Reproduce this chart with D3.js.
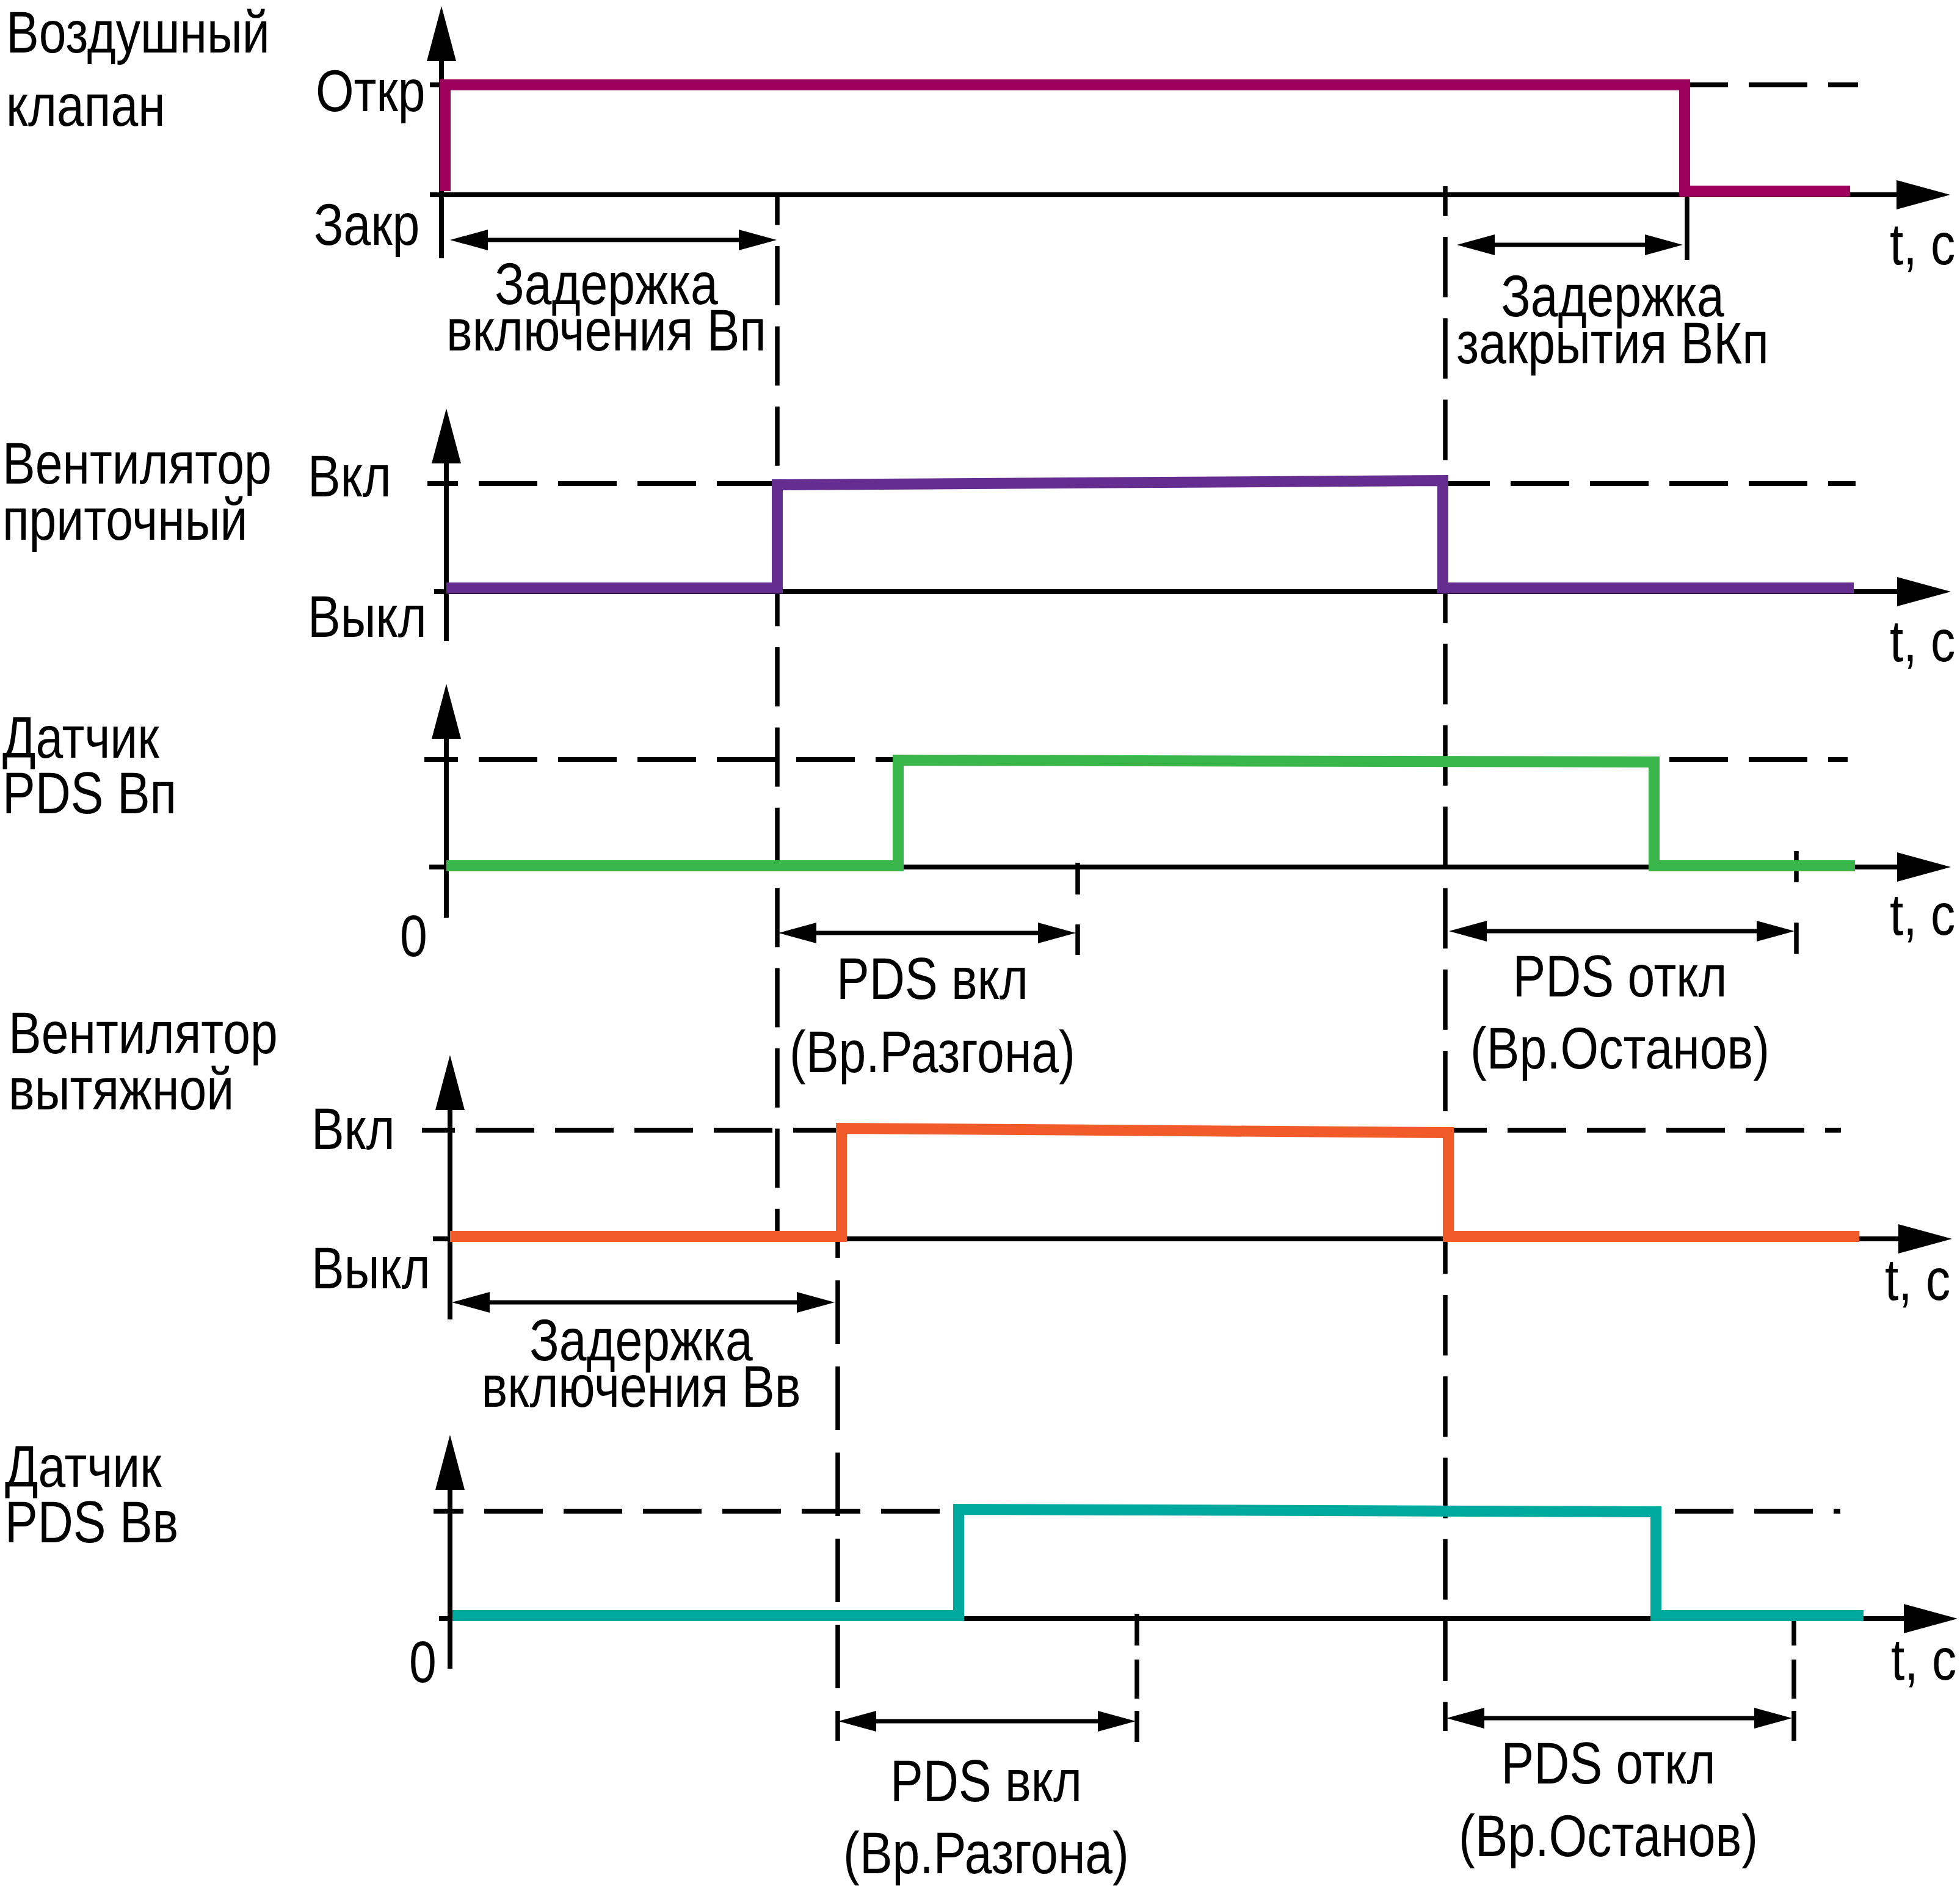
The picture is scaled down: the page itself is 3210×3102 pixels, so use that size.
<!DOCTYPE html>
<html><head><meta charset="utf-8">
<script src="https://cdn.jsdelivr.net/npm/d3@7"></script>
<style>
body{margin:0;background:#fff}
svg{display:block}
text{font-family:'Liberation Sans Narrow','Liberation Sans',Arial,sans-serif;font-size:97px;fill:#000}
</style>
</head><body><svg id="c" width="3210" height="3102"></svg>
<script>
// ---------- data ----------
const panelTitles = [["Воздушный","клапан"],["Вентилятор","приточный"],["Датчик","PDS Вп"],["Вентилятор","вытяжной"],["Датчик","PDS Вв"]];
const levelHigh = ["Откр","Вкл","","Вкл",""];
const levelLow = ["Закр","Выкл","0","Выкл","0"];
const axisUnit = "t, c";
const seriesColors = ["#9E005D","#662D91","#39B54A","#F15A29","#00A99D"];

// time points (s) and state values (0 = off/closed, 1 = on/open)
const valveT = [-0.05, -0.05, 101.45, 101.45, 115.0];
const valveV = [0, 1, 1, 0, 0];
const supplyFanT = [0.05, 27.15, 27.15, 81.65, 81.65, 115.3];
const supplyFanV = [0, 0, 0.988, 1.029, 0, 0];
const supplyPdsT = [0.05, 37.05, 37.05, 98.95, 98.95, 115.4];
const supplyPdsV = [0, 0, 0.994, 0.977, 0, 0];
const exhaustFanT = [0.35, 32.4, 32.4, 82.1, 82.1, 115.75];
const exhaustFanV = [0, 0, 1.017, 0.977, 0, 0];
const exhaustPdsT = [0.55, 42.0, 42.0, 99.1, 99.1, 116.1];
const exhaustPdsV = [0, 0, 1.018, 0.994, 0, 0];
const seriesT = [valveT, supplyFanT, supplyPdsT, exhaustFanT, exhaustPdsT];
const seriesV = [valveV, supplyFanV, supplyPdsV, exhaustFanV, exhaustPdsV];

// timing intervals (double arrows)
const intervalLabels = [["Задержка","включения Вп"],["Задержка","закрытия ВКп"],["PDS вкл","(Вр.Разгона)"],["PDS откл","(Вр.Останов)"],["Задержка","включения Вв"],["PDS вкл","(Вр.Разгона)"],["PDS откл","(Вр.Останов)"]];
const intervalStart = [0.35, 82.8, 27.25, 82.15, 0.5, 32.15, 81.95];
const intervalEnd = [27.1, 101.3, 51.6, 110.45, 31.85, 56.5, 110.25];

// event markers (s)
const eventT = [27.15, 32.1, 81.85, 101.65, 51.75, 110.6, 56.6, 110.4];

// ---------- layout ----------
const panels = [
 {axisX:723, lowY:313, highY:139, axisY:319, tipY:10, bottomY:423, hiTickL:704, hiTickR:723, xAxisL:704, xTip:3194, dashEnd:3043, dashOff:69, titleX:10, titleY:[86,206], levelX:[517,514], levelY:[182,401], unitX:3095, unitY:433},
 {axisX:731, lowY:963, highY:792, axisY:969, tipY:669, bottomY:1050, hiTickL:700, hiTickR:750, xAxisL:711, xTip:3195, dashEnd:3039, dashOff:96, titleX:4, titleY:[792,884], levelX:[504,504], levelY:[813,1043], unitX:3095, unitY:1083},
 {axisX:731, lowY:1418, highY:1244, axisY:1420, tipY:1120, bottomY:1503, hiTickL:695, hiTickR:750, xAxisL:703, xTip:3195, dashEnd:3026, dashOff:96, titleX:4, titleY:[1241,1332], levelX:[0,655], levelY:[0,1566], unitX:3095, unitY:1531},
 {axisX:737, lowY:2025, highY:1851, axisY:2029, tipY:1728, bottomY:2161, hiTickL:691, hiTickR:745, xAxisL:709, xTip:3197, dashEnd:3015, dashOff:96, titleX:14, titleY:[1725,1817], levelX:[510,510], levelY:[1882,2110], unitX:3087, unitY:2129},
 {axisX:737, lowY:2646, highY:2475, axisY:2651, tipY:2350, bottomY:2733, hiTickL:710, hiTickR:759, xAxisL:719, xTip:3206, dashEnd:3014, dashOff:96, titleX:8, titleY:[2435,2526], levelX:[0,670], levelY:[0,2755], unitX:3097, unitY:2751}
];
const guideSpec = [
 {y1:319, y2:2029, dash:"97 34.4", off:47.4},
 {y1:2029, y2:2851, dash:"104 37", off:73},
 {y1:305, y2:2835, dash:"99 34.3", off:50.3},
 {y1:321, y2:426, dash:null, off:0},
 {y1:1413, y2:1564, dash:"52 49 200", off:0},
 {y1:1394, y2:1562, dash:"51 66 200", off:0},
 {y1:2643, y2:2853, dash:"52 23 64 20 200", off:0},
 {y1:2645, y2:2851, dash:"50 23 64 20 200", off:0}
];
const intervalPanelY = [393, 401, 1528, 1525, 2133, 2819, 2814];
const intervalTextX = [993, 2641, 1527, 2653, 1050, 1615, 2634];
const intervalTextY = [[498,574],[518,595],[1636,1756],[1632,1750],[2228,2304],[2950,3068],[2921,3040]];

// ---------- drawing ----------
const svg = d3.select("#c");
const x = d3.scaleLinear().domain([0, 120]).range([730, 3130]);
const AX = 8, DASHW = 8, SIG = 18, ARW = 7, NARROW = 0.83;

const gDash = svg.append("g"), gAxes = svg.append("g"), gGuide = svg.append("g"),
      gSig = svg.append("g"), gArr = svg.append("g"), gText = svg.append("g");

function addText(tx, ty, s, anchor) {
  gText.append("text").attr("transform", `translate(${tx},${ty}) scale(${NARROW},1)`)
    .attr("text-anchor", anchor || "start").text(s);
}

panels.forEach((p, i) => {
  const y = d3.scaleLinear().domain([0, 1]).range([p.lowY, p.highY]);
  gDash.append("line").attr("x1", p.hiTickR).attr("x2", p.dashEnd)
    .attr("y1", y(1)).attr("y2", y(1)).attr("stroke", "#000").attr("stroke-width", DASHW)
    .attr("stroke-dasharray", "96 34").attr("stroke-dashoffset", p.dashOff);
  gAxes.append("line").attr("x1", p.hiTickL).attr("x2", p.hiTickR)
    .attr("y1", y(1)).attr("y2", y(1)).attr("stroke", "#000").attr("stroke-width", AX);
  gAxes.append("line").attr("x1", p.axisX).attr("x2", p.axisX)
    .attr("y1", p.bottomY).attr("y2", p.tipY + 85).attr("stroke", "#000").attr("stroke-width", AX);
  gAxes.append("path").attr("d", d3.line()([[p.axisX, p.tipY],[p.axisX - 24, p.tipY + 90],[p.axisX + 24, p.tipY + 90]]) + "Z").attr("fill", "#000");
  gAxes.append("line").attr("x1", p.xAxisL).attr("x2", p.xTip - 84)
    .attr("y1", p.axisY).attr("y2", p.axisY).attr("stroke", "#000").attr("stroke-width", AX);
  gAxes.append("path").attr("d", d3.line()([[p.xTip, p.axisY],[p.xTip - 88, p.axisY - 24],[p.xTip - 88, p.axisY + 24]]) + "Z").attr("fill", "#000");
  const pts = seriesT[i].map((t, k) => [x(t), y(seriesV[i][k])]);
  gSig.append("path").attr("d", d3.line()(pts)).attr("fill", "none")
    .attr("stroke", seriesColors[i]).attr("stroke-width", SIG)
    .attr("stroke-linejoin", "miter").attr("stroke-linecap", "butt");
  panelTitles[i].forEach((s, k) => addText(p.titleX, p.titleY[k], s));
  if (levelHigh[i]) addText(p.levelX[0], p.levelY[0], levelHigh[i]);
  addText(p.levelX[1], p.levelY[1], levelLow[i]);
  addText(p.unitX, p.unitY, axisUnit);
});

eventT.forEach((t, i) => {
  const g = guideSpec[i];
  const l = gGuide.append("line").attr("x1", x(t)).attr("x2", x(t)).attr("y1", g.y1).attr("y2", g.y2)
    .attr("stroke", "#000").attr("stroke-width", 7.5);
  if (g.dash) l.attr("stroke-dasharray", g.dash).attr("stroke-dashoffset", g.off);
});

intervalLabels.forEach((lab, i) => {
  const x1 = x(intervalStart[i]), x2 = x(intervalEnd[i]), yy = intervalPanelY[i];
  gArr.append("line").attr("x1", x1 + 30).attr("x2", x2 - 30).attr("y1", yy).attr("y2", yy)
    .attr("stroke", "#000").attr("stroke-width", ARW);
  gArr.append("path").attr("d", d3.line()([[x1, yy],[x1 + 62, yy - 17],[x1 + 62, yy + 17]]) + "Z").attr("fill", "#000");
  gArr.append("path").attr("d", d3.line()([[x2, yy],[x2 - 62, yy - 17],[x2 - 62, yy + 17]]) + "Z").attr("fill", "#000");
  lab.forEach((s, k) => addText(intervalTextX[i], intervalTextY[i][k], s, "middle"));
});
</script>
</body></html>
